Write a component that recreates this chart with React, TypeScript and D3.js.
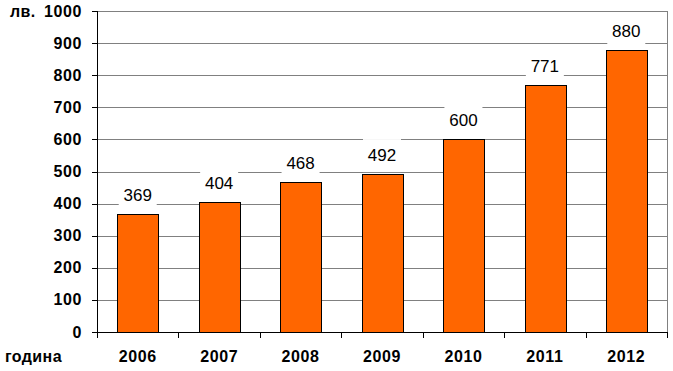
import React from "react";
import * as d3 from "d3";

const years = ["2006", "2007", "2008", "2009", "2010", "2011", "2012"];
const values = [369, 404, 468, 492, 600, 771, 880];
const yTicks = [0, 100, 200, 300, 400, 500, 600, 700, 800, 900, 1000];
const yUnit = "лв.";
const xTitle = "година";

const W = 673;
const H = 371;
const left = 97;
const right = 667;
const top = 11;
const bottom = 332;
const font = "'Liberation Sans', Arial, sans-serif";

export default function App() {
  const x = d3.scaleBand<string>().domain(years).range([left, right]).paddingInner(0.5).paddingOuter(0.25);
  const xb = d3.scaleBand<string>().domain(years).range([left, right]);
  const y = d3.scaleLinear().domain([0, 1000]).range([bottom, top]);
  const bw = x.bandwidth();

  return (
    <svg width={W} height={H} style={{ position: "absolute", left: 0, top: 0, background: "#fff" }}>
      {/* gridlines */}
      {yTicks.map((t) => (
        <line key={"g" + t} x1={left} x2={right} y1={Math.round(y(t)) + 0.5} y2={Math.round(y(t)) + 0.5} stroke="#808080" strokeWidth={1} />
      ))}
      {/* right border */}
      <line x1={right + 0.5} x2={right + 0.5} y1={top} y2={bottom} stroke="#808080" strokeWidth={1} />
      {/* label boxes */}
      {values.map((v, i) => {
        const cx = x(years[i])! + bw / 2;
        const bt = y(v);
        return <rect key={"lb" + i} x={cx - 19} y={bt - 35} width={38} height={33} fill="#fff" />;
      })}
      {/* bars */}
      {values.map((v, i) => (
        <rect
          key={"b" + i}
          x={Math.round(x(years[i])!) + 0.5}
          y={Math.round(y(v)) + 0.5}
          width={Math.round(bw)}
          height={Math.round(y(0)) - Math.round(y(v))}
          fill="#FF6600"
          stroke="#000"
          strokeWidth={1}
        />
      ))}
      {/* data labels */}
      {values.map((v, i) => {
        const cx = x(years[i])! + bw / 2;
        return (
          <text key={"dl" + i} x={cx} y={y(v) - 13} textAnchor="middle" fontFamily={font} fontSize={17} fill="#000">
            {v}
          </text>
        );
      })}
      {/* axes */}
      <line x1={left + 0.5} x2={left + 0.5} y1={top} y2={bottom + 0.5} stroke="#000" strokeWidth={1} />
      <line x1={left} x2={right + 1} y1={bottom + 0.5} y2={bottom + 0.5} stroke="#000" strokeWidth={1} />
      {yTicks.map((t) => (
        <g key={"yt" + t}>
          <line x1={left - 5} x2={left} y1={Math.round(y(t)) + 0.5} y2={Math.round(y(t)) + 0.5} stroke="#000" />
          <text x={82} y={y(t) + 5.5} textAnchor="end" fontFamily={font} fontWeight="bold" fontSize={16} letterSpacing={0.6} fill="#000">
            {t}
          </text>
        </g>
      ))}
      {years.map((yr, i) => (
        <line key={"xt" + i} x1={Math.round(xb(yr)!) + 0.5} x2={Math.round(xb(yr)!) + 0.5} y1={bottom} y2={bottom + 6} stroke="#000" />
      ))}
      <line x1={right + 0.5} x2={right + 0.5} y1={bottom} y2={bottom + 6} stroke="#000" />
      {years.map((yr) => (
        <text key={"xl" + yr} x={x(yr)! + bw / 2} y={362} textAnchor="middle" fontFamily={font} fontWeight="bold" fontSize={16} letterSpacing={0.6} fill="#000">
          {yr}
        </text>
      ))}
      <text x={5} y={362} fontFamily={font} fontWeight="bold" fontSize={16} letterSpacing={0.4} fill="#000">
        {xTitle}
      </text>
      <text x={10} y={y(1000) + 5.5} fontFamily={font} fontWeight="bold" fontSize={16} letterSpacing={0.4} fill="#000">
        {yUnit}
      </text>
    </svg>
  );
}
